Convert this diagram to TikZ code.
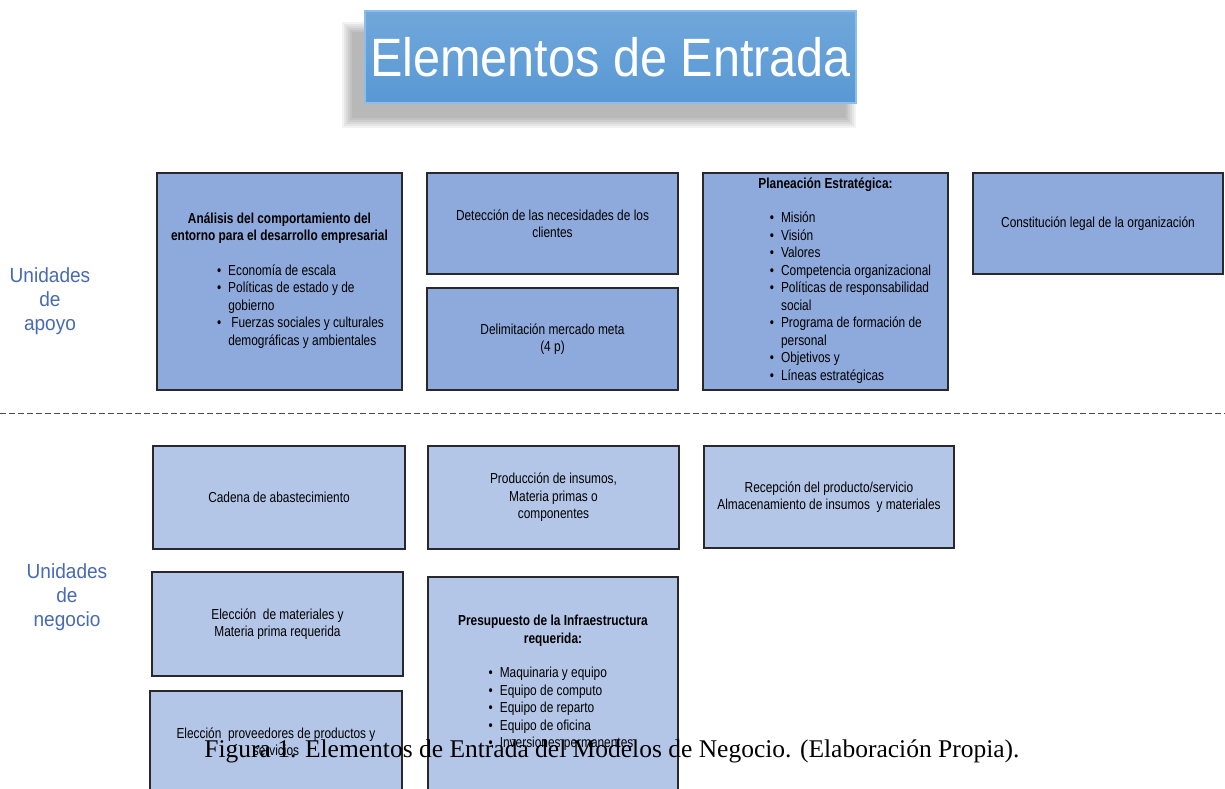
\documentclass[tikz,border=0pt]{standalone}
\usepackage{fontspec}
\setmainfont{Liberation Serif}
\newfontfamily\narrowfont[FakeStretch=0.82]{Liberation Sans}
\newfontfamily\titlefont[FakeStretch=0.9]{Liberation Sans}
\newfontfamily\labelfont[FakeStretch=0.93]{Liberation Sans}

\definecolor{apoyofill}{RGB}{142,169,219}
\definecolor{negociofill}{RGB}{180,198,231}
\definecolor{boxline}{RGB}{40,40,45}
\definecolor{titlefill}{RGB}{88,152,212}
\definecolor{titleedge}{RGB}{140,190,235}
\definecolor{labelblue}{RGB}{70,106,180}

\begin{document}
\begin{tikzpicture}[x=1pt,y=-1pt]
    % Define the styles for the boxes, the side labels and the separator
    \tikzstyle{apoyo}=[rectangle, draw=boxline, line width=1.1pt, fill=apoyofill, align=center, inner sep=0pt, font=\narrowfont\fontsize{14.5}{17.5}\selectfont]
    \tikzstyle{negocio}=[apoyo, fill=negociofill]
    \tikzstyle{unidad}=[align=center, text=labelblue, font=\labelfont\fontsize{20.5}{24}\selectfont]
    \tikzstyle{separator}=[draw=black!70, line width=0.9pt, dash pattern=on 6pt off 3pt]

    \useasboundingbox (0,0) rectangle (1225,789);
    \clip (0,0) rectangle (1225,789);
    \fill[white] (0,0) rectangle (1225,789);

    % Draw the title with its shadow
    \foreach \s in {0,2,...,10}
        \fill[black, opacity=0.05] (352-\s,32-\s) rectangle (846+\s,118+\s);
    \node[rectangle, draw=titleedge, line width=1.5pt, top color=titlefill!85!white, bottom color=titlefill, minimum width=491pt, minimum height=92pt, text=white, font=\titlefont\fontsize{54}{60}\selectfont] (titulo) at (610.5,57) {Elementos de Entrada};

    % Draw the boxes of the support units
    \node[apoyo, minimum width=245pt, minimum height=217pt] (analisis) at (279.5,281.5)
        {\textbf{Análisis del comportamiento del}\\ \textbf{entorno para el desarrollo empresarial}\\[17pt]
         \hspace*{42pt}\begin{tabular}[t]{@{}c@{\hspace{7pt}}l@{}}
         \textbullet & Economía de escala\\
         \textbullet & Políticas de estado y de\\
                     & gobierno\\
         \textbullet & \hspace{3pt}Fuerzas sociales y culturales\\
                     & demográficas y ambientales
         \end{tabular}};
    \node[apoyo, minimum width=251pt, minimum height=101pt] (deteccion) at (552.5,223.5)
        {Detección de las necesidades de los\\ clientes};
    \node[apoyo, minimum width=251pt, minimum height=102pt] (delimitacion) at (552.5,339)
        {Delimitación mercado meta\\ (4 p)};
    \node[apoyo, minimum width=245pt, minimum height=217pt] (planeacion) at (825.5,281.5)
        {\textbf{Planeación Estratégica:}\\[17pt]
         \hspace*{50pt}\begin{tabular}[t]{@{}c@{\hspace{7pt}}l@{}}
         \textbullet & Misión\\
         \textbullet & Visión\\
         \textbullet & Valores\\
         \textbullet & Competencia organizacional\\
         \textbullet & Políticas de responsabilidad\\
                     & social\\
         \textbullet & Programa de formación de\\
                     & personal\\
         \textbullet & Objetivos y\\
         \textbullet & Líneas estratégicas
         \end{tabular}};
    \node[apoyo, minimum width=250pt, minimum height=101pt] (constitucion) at (1098,223.5)
        {Constitución legal de la organización};

    % Draw the boxes of the business units
    \node[negocio, minimum width=252pt, minimum height=103pt] (cadena) at (279,497.5)
        {Cadena de abastecimiento};
    \node[negocio, minimum width=251pt, minimum height=103pt] (produccion) at (553.5,497.5)
        {Producción de insumos,\\ Materia primas o\\ componentes};
    \node[negocio, minimum width=250pt, minimum height=102pt] (recepcion) at (829,497)
        {Recepción del producto/servicio\\ Almacenamiento de insumos\ \ y materiales};
    \node[negocio, minimum width=251pt, minimum height=104pt] (materiales) at (277.5,624)
        {Elección\ \ de materiales y\\ Materia prima requerida};
    \node[negocio, minimum width=252pt, minimum height=101pt] (proveedores) at (276,741.5)
        {Elección\ \ proveedores de productos y\\ servicios};
    \node[negocio, minimum width=250pt, minimum height=214pt] (presupuesto) at (553,684)
        {\textbf{Presupuesto de la Infraestructura}\\ \textbf{requerida:}\\[17pt]
         \hspace*{16pt}\begin{tabular}[t]{@{}c@{\hspace{7pt}}l@{}}
         \textbullet & Maquinaria y equipo\\
         \textbullet & Equipo de computo\\
         \textbullet & Equipo de reparto\\
         \textbullet & Equipo de oficina\\
         \textbullet & Inversiones permanentes
         \end{tabular}};

    % Draw the side labels
    \node[unidad] (unidades_apoyo) at (50,301) {Unidades\\ de\\ apoyo};
    \node[unidad] (unidades_negocio) at (67,597) {Unidades\\ de\\ negocio};

    % Draw the separator between both groups
    \coordinate (sep_izq) at (0,413);
    \coordinate (sep_der) at (1225,413);
    \draw[separator] (sep_izq) -- (sep_der);

    % Draw the caption
    \node[font=\fontsize{25.5}{29}\selectfont] (caption) at (612,751)
        {Figura 1. Elementos de Entrada del Modelos de Negocio. (Elaboración Propia).};
\end{tikzpicture}
\end{document}
